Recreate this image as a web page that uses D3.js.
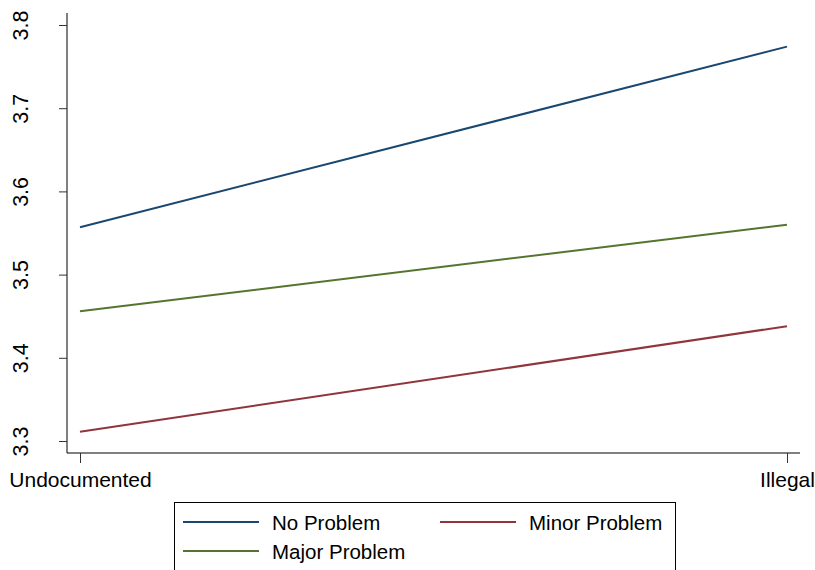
<!DOCTYPE html>
<html>
<head>
<meta charset="utf-8">
<script src="https://cdn.jsdelivr.net/npm/d3@7"></script>
<style>
  html, body { margin: 0; padding: 0; background: #fff; }
  svg { display: block; font-family: Arial, "Liberation Sans", sans-serif; }
</style>
</head>
<body>
<svg id="chart" width="815" height="570"></svg>
<script>
// Predicted values by wording condition
const categories = ["Undocumented", "Illegal"];
const seriesNames = ["No Problem", "Minor Problem", "Major Problem"];
const noProblem = [3.557, 3.774];
const minorProblem = [3.311, 3.438];
const majorProblem = [3.456, 3.560];
const yTicks = [3.3, 3.4, 3.5, 3.6, 3.7, 3.8];

const seriesValues = [noProblem, minorProblem, majorProblem];
const colors = ["#1a476f", "#90353b", "#55752f"];

const svg = d3.select("#chart");
const plot = { left: 67, right: 800, top: 13, bottom: 453 };

const x = d3.scalePoint().domain(categories).range([80, 787]);
const y = d3.scaleLinear().domain([3.3, 3.8]).range([441, 25]);

// Axis lines
svg.append("line")
  .attr("x1", plot.left).attr("x2", plot.left)
  .attr("y1", plot.top).attr("y2", plot.bottom)
  .attr("stroke", "#000").attr("stroke-width", 1);
svg.append("line")
  .attr("x1", plot.left).attr("x2", plot.right)
  .attr("y1", plot.bottom).attr("y2", plot.bottom)
  .attr("stroke", "#000").attr("stroke-width", 1);

// Y axis
const yAxis = svg.append("g")
  .attr("transform", `translate(${plot.left},0)`)
  .call(d3.axisLeft(y).tickValues(yTicks).tickFormat(d3.format(".1f")).tickSize(8).tickPadding(0));
yAxis.select(".domain").remove();
yAxis.selectAll(".tick line").attr("stroke", "#333");
yAxis.selectAll(".tick text")
  .attr("x", null).attr("dy", null)
  .attr("text-anchor", "middle")
  .attr("transform", "translate(-39,0) rotate(-90)")
  .attr("fill", "#000")
  .style("font-size", "21.5px");

// X axis
const xAxis = svg.append("g")
  .attr("transform", `translate(0,${plot.bottom})`)
  .call(d3.axisBottom(x).tickSize(10).tickPadding(0));
xAxis.select(".domain").remove();
xAxis.selectAll(".tick line").attr("stroke", "#333");
xAxis.selectAll(".tick text")
  .attr("y", 34).attr("dy", null)
  .attr("fill", "#000")
  .style("font-size", "21px");

// Lines
const line = d3.line()
  .x((d, i) => x(categories[i]))
  .y(d => y(d));

svg.append("g").selectAll("path")
  .data(seriesValues)
  .join("path")
  .attr("d", d => line(d))
  .attr("fill", "none")
  .attr("stroke", (d, i) => colors[i])
  .attr("stroke-width", 2);

// Legend
const legend = svg.append("g");
legend.append("rect")
  .attr("x", 174.5).attr("y", 502.5)
  .attr("width", 501).attr("height", 80)
  .attr("fill", "#fff").attr("stroke", "#000").attr("stroke-width", 1);

const legendPos = [
  { lx: 183, ly: 522 },
  { lx: 440, ly: 522 },
  { lx: 183, ly: 551 }
];
seriesNames.forEach((name, i) => {
  const p = legendPos[i];
  legend.append("line")
    .attr("x1", p.lx).attr("x2", p.lx + 76)
    .attr("y1", p.ly).attr("y2", p.ly)
    .attr("stroke", colors[i]).attr("stroke-width", 2);
  legend.append("text")
    .attr("x", p.lx + 89).attr("y", p.ly + 8)
    .attr("fill", "#000")
    .style("font-size", "20.5px")
    .text(name);
});
</script>
</body>
</html>
